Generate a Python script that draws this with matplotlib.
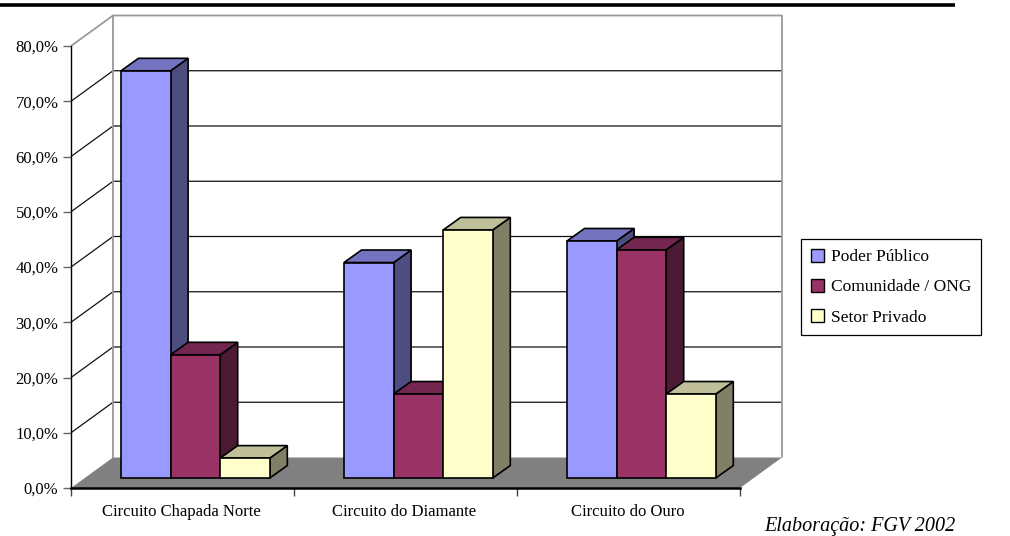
import matplotlib
matplotlib.use("Agg")
import matplotlib.pyplot as plt
from matplotlib.patches import Polygon, Patch

categories = ["Circuito Chapada Norte", "Circuito do Diamante", "Circuito do Ouro"]
series_names = ["Poder Público", "Comunidade / ONG", "Setor Privado"]
poder_publico = [73.7, 39.0, 42.9]
comunidade = [22.3, 15.2, 41.3]
setor_privado = [3.6, 44.9, 15.2]
series_values = [poder_publico, comunidade, setor_privado]
front_colors = ["#9999FF", "#993366", "#FFFFCC"]
top_colors = ["#7373BF", "#732650", "#BFBF99"]
side_colors = ["#4D4D80", "#4D1A33", "#808066"]
yticks = [0, 10, 20, 30, 40, 50, 60, 70, 80]
ytick_labels = ["0,0%", "10,0%", "20,0%", "30,0%", "40,0%", "50,0%", "60,0%", "70,0%", "80,0%"]

W, H = 1010, 536
plt.rcParams["font.family"] = ["Liberation Serif", "DejaVu Serif"]
fig = plt.figure(figsize=(W / 100, H / 100), dpi=100, facecolor="white")
ax = fig.add_axes([71 / W, (H - 488) / H, 669 / W, 442 / H])
ax.set_xlim(0, 3)
ax.set_ylim(0, 80)
ax.patch.set_visible(False)

PX_X = 223.0
PX_Y = 442.0 / 80
DX = 42 / PX_X
DY = 30.5 / PX_Y
BAR_START = 50 / PX_X
BAR_W = 49.6 / PX_X
BASE = 10 / PX_Y
BAR_DX = 17.5 / PX_X
BAR_DY = 12.5 / PX_Y

def poly(points, **kw):
    ax.add_patch(Polygon(points, closed=True, clip_on=False, **kw))

def line(xs, ys, **kw):
    ax.plot(xs, ys, clip_on=False, solid_capstyle="butt", **kw)

# Floor
poly([(0, 0), (3, 0), (3 + DX, DY), (DX, DY)], facecolor="#808080", edgecolor="none", zorder=1)

# Gridlines and walls
for y in yticks[1:-1]:
    line([0, DX, 3 + DX], [y, y + DY, y + DY], color="#111111", lw=0.9, zorder=1.5)
    line([3 + DX, 3 + DX], [y + DY, y + DY], color="#111111", lw=0.9, zorder=1.5)
line([0, DX, 3 + DX, 3 + DX], [80, 80 + DY, 80 + DY, DY], color="#999999", lw=1.3, zorder=1.6)
line([DX, DX], [DY, 80 + DY], color="#999999", lw=1.3, zorder=1.6)

# Bars
for i in range(len(categories)):
    for j, values in enumerate(series_values):
        v = values[i]
        x0 = i + BAR_START + j * BAR_W
        x1 = x0 + BAR_W
        kw = dict(edgecolor="black", linewidth=1.2, joinstyle="miter", zorder=2 + 0.01 * (3 * i + j))
        poly([(x1, BASE), (x1 + BAR_DX, BASE + BAR_DY), (x1 + BAR_DX, BASE + v + BAR_DY), (x1, BASE + v)],
             facecolor=side_colors[j], **kw)
        poly([(x0, BASE + v), (x1, BASE + v), (x1 + BAR_DX, BASE + v + BAR_DY), (x0 + BAR_DX, BASE + v + BAR_DY)],
             facecolor=top_colors[j], **kw)
        poly([(x0, BASE), (x1, BASE), (x1, BASE + v), (x0, BASE + v)], facecolor=front_colors[j], **kw)

# Axes
for s in ["top", "right"]:
    ax.spines[s].set_visible(False)
ax.spines["left"].set_linewidth(1.0)
ax.spines["bottom"].set_linewidth(1.8)
ax.spines["left"].set_zorder(3)
ax.spines["bottom"].set_zorder(3)
ax.set_yticks(yticks)
ax.set_yticklabels(ytick_labels, fontsize=12)
ax.tick_params(axis="y", length=6, width=1, color="#666666", pad=3)
ax.set_xticks([0, 1, 2, 3])
ax.set_xticklabels([])
ax.tick_params(axis="x", length=6, width=1, color="#444444")
for i, cat in enumerate(categories):
    ax.annotate(cat, xy=(i + 0.5, 0), xytext=(-1 if i < 2 else -1, -24), textcoords="offset pixels",
                ha="center", va="center", fontsize=12, annotation_clip=False)

# Legend
handles = [Patch(facecolor=c, edgecolor="black", linewidth=1.0) for c in front_colors]
leg = fig.legend(handles, series_names, loc="upper left", bbox_to_anchor=(801 / W, 1 - 239 / H),
                 bbox_transform=fig.transFigure, fontsize=12.5, frameon=True, fancybox=False,
                 edgecolor="black", framealpha=1, borderaxespad=0, borderpad=0.55,
                 handlelength=0.8, handleheight=0.8, handletextpad=0.4, labelspacing=0.78)
leg.get_frame().set_linewidth(0.9)

# Top rule and source note
fig.add_artist(plt.Line2D([0, 955 / W], [1 - 4.5 / H, 1 - 4.5 / H], color="black", lw=2.6,
                          transform=fig.transFigure, solid_capstyle="butt"))
fig.text(955 / W, 1 - 526 / H, "Elaboração: FGV 2002", ha="right", va="center",
         fontsize=14.5, style="italic")

fig.savefig("out.png", dpi=100)
